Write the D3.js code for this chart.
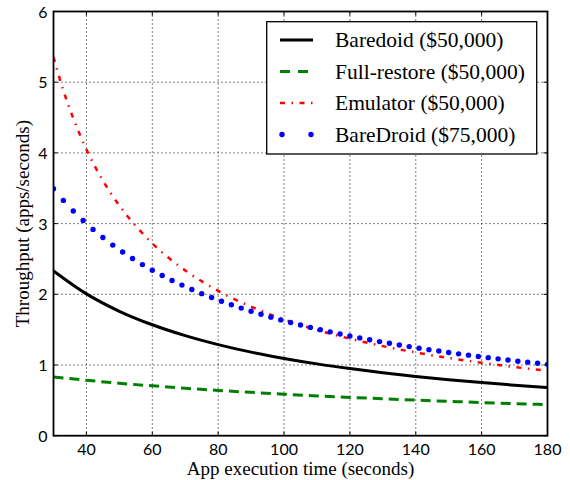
<!DOCTYPE html>
<html>
<head>
<meta charset="utf-8">
<script src="https://cdn.jsdelivr.net/npm/d3@7"></script>
<style>
  body { margin: 0; background: #fff; }
  svg { display: block; }
</style>
</head>
<body>
<div id="chart"></div>
<script>
// Values
var lineX = [30, 40, 50, 60, 70, 80, 90, 100, 110, 120, 130, 140, 150, 160, 170, 180];
var baredoid50k = [2.33, 2.006, 1.76, 1.569, 1.415, 1.288, 1.182, 1.093, 1.016, 0.949, 0.89, 0.838, 0.792, 0.751, 0.714, 0.68];
var fullRestore50k = [0.83, 0.784, 0.742, 0.705, 0.671, 0.641, 0.613, 0.587, 0.563, 0.542, 0.522, 0.503, 0.486, 0.469, 0.454, 0.44];
var emulatorX = [30, 33, 36, 40, 45, 50, 60, 70, 80, 90, 100, 110, 120, 130, 140, 150, 160, 170, 180];
var emulator50k = [5.355, 4.88, 4.49, 4.049, 3.609, 3.255, 2.721, 2.338, 2.049, 1.824, 1.644, 1.495, 1.372, 1.267, 1.177, 1.099, 1.031, 0.971, 0.917];

// BareDroid ($75,000) is drawn as point markers, one every 3 s
var dotX = [30, 33, 36, 39, 42, 45, 48, 51, 54, 57, 60, 63, 66, 69, 72, 75, 78, 81, 84, 87,
            90, 93, 96, 99, 102, 105, 108, 111, 114, 117, 120, 123, 126, 129, 132, 135, 138,
            141, 144, 147, 150, 153, 156, 159, 162, 165, 168, 171, 174, 177, 180];
var bareDroid75k = [3.492, 3.328, 3.179, 3.043, 2.918, 2.803, 2.696, 2.598, 2.506, 2.42, 2.341,
            2.266, 2.196, 2.13, 2.068, 2.009, 1.954, 1.902, 1.852, 1.805, 1.76, 1.718, 1.677,
            1.638, 1.602, 1.566, 1.532, 1.5, 1.469, 1.439, 1.411, 1.383, 1.357, 1.331, 1.307,
            1.283, 1.26, 1.238, 1.217, 1.197, 1.177, 1.158, 1.139, 1.121, 1.104, 1.087, 1.07,
            1.054, 1.039, 1.024, 1.009];

var xTicks = [40, 60, 80, 100, 120, 140, 160, 180];
var yTicks = [0, 1, 2, 3, 4, 5, 6];
var legendLabels = ["Baredoid ($50,000)", "Full-restore ($50,000)", "Emulator ($50,000)", "BareDroid ($75,000)"];

var serif = "'Liberation Serif', 'DejaVu Serif', serif";
var sans = "Lato, 'Open Sans', sans-serif";

var width = 570, height = 480;
var margin = {left: 53.5, right: 22.5, top: 11.5, bottom: 44.3};
var pw = width - margin.left - margin.right,
    ph = height - margin.top - margin.bottom;

var svg = d3.select("#chart").append("svg")
    .attr("width", width)
    .attr("height", height);

var x = d3.scaleLinear().domain([30, 180]).range([0, pw]);
var y = d3.scaleLinear().domain([0, 6]).range([ph, 0]);

var g = svg.append("g")
    .attr("transform", "translate(" + margin.left + "," + margin.top + ")");

g.append("clipPath").attr("id", "plotclip")
  .append("rect").attr("width", pw).attr("height", ph);

// Grid (dotted)
g.selectAll(".vgrid").data(xTicks.filter(function(d) { return d < 180; }))
  .enter().append("line")
    .attr("x1", function(d) { return x(d); }).attr("x2", function(d) { return x(d); })
    .attr("y1", 0).attr("y2", ph)
    .attr("stroke", "#000").attr("stroke-width", 1).attr("stroke-dasharray", "1,3");
g.selectAll(".hgrid").data(yTicks.filter(function(d) { return d > 0 && d < 6; }))
  .enter().append("line")
    .attr("x1", 0).attr("x2", pw)
    .attr("y1", function(d) { return y(d); }).attr("y2", function(d) { return y(d); })
    .attr("stroke", "#000").attr("stroke-width", 1).attr("stroke-dasharray", "1,3");

// Ticks on all four sides, pointing inward
var tl = 4;
xTicks.forEach(function(d) {
    g.append("line").attr("x1", x(d)).attr("x2", x(d)).attr("y1", ph).attr("y2", ph - tl)
        .attr("stroke", "#000").attr("stroke-width", 1);
    g.append("line").attr("x1", x(d)).attr("x2", x(d)).attr("y1", 0).attr("y2", tl)
        .attr("stroke", "#000").attr("stroke-width", 1);
    g.append("text")
        .attr("font-family", sans).attr("font-size", 16)
        .attr("x", x(d)).attr("y", ph + 19.5)
        .attr("text-anchor", "middle")
        .text(d);
});
yTicks.forEach(function(d) {
    g.append("line").attr("x1", 0).attr("x2", tl).attr("y1", y(d)).attr("y2", y(d))
        .attr("stroke", "#000").attr("stroke-width", 1);
    g.append("line").attr("x1", pw).attr("x2", pw - tl).attr("y1", y(d)).attr("y2", y(d))
        .attr("stroke", "#000").attr("stroke-width", 1);
    g.append("text")
        .attr("font-family", sans).attr("font-size", 16)
        .attr("x", -6).attr("y", y(d) + 6)
        .attr("text-anchor", "end")
        .text(d);
});

// Series
var plot = g.append("g").attr("clip-path", "url(#plotclip)");
function lineOf(xs, ys) {
    return d3.line()
        .x(function(d, i) { return x(xs[i]); })
        .y(function(d) { return y(d); })
        .curve(d3.curveMonotoneX)(ys);
}
plot.append("path").attr("d", lineOf(lineX, baredoid50k))
    .attr("fill", "none").attr("stroke", "#000").attr("stroke-width", 3);
plot.append("path").attr("d", lineOf(lineX, fullRestore50k))
    .attr("fill", "none").attr("stroke", "#008000").attr("stroke-width", 3)
    .attr("stroke-dasharray", "10,6");
plot.append("path").attr("d", lineOf(emulatorX, emulator50k))
    .attr("fill", "none").attr("stroke", "#ff0000").attr("stroke-width", 2.5)
    .attr("stroke-dasharray", "5,6.5,1.5,6.5");
plot.selectAll(".dot").data(bareDroid75k)
  .enter().append("circle")
    .attr("cx", function(d, i) { return x(dotX[i]); })
    .attr("cy", function(d) { return y(d); })
    .attr("r", 2.7)
    .attr("fill", "#0000ff");

// Frame
g.append("rect").attr("width", pw).attr("height", ph)
    .attr("fill", "none").attr("stroke", "#000").attr("stroke-width", 1.8);

// Axis labels
svg.append("text")
    .attr("font-family", serif).attr("font-size", 19)
    .attr("x", margin.left + pw / 2).attr("y", 475)
    .attr("text-anchor", "middle")
    .text("App execution time (seconds)");
svg.append("text")
    .attr("font-family", serif).attr("font-size", 19)
    .attr("transform", "translate(29," + (margin.top + ph / 2) + ") rotate(-90)")
    .attr("text-anchor", "middle")
    .text("Throughput (apps/seconds)");

// Legend
var lg = svg.append("g");
lg.append("rect")
    .attr("x", 266.7).attr("y", 21.7).attr("width", 270).attr("height", 132.3)
    .attr("fill", "#fff").attr("stroke", "#000").attr("stroke-width", 1.3);
var rowY = [40, 71.5, 103, 134.5];
var lx0 = 280, lx1 = 313;
lg.append("line").attr("x1", lx0).attr("x2", lx1).attr("y1", rowY[0]).attr("y2", rowY[0])
    .attr("stroke", "#000").attr("stroke-width", 3);
lg.append("line").attr("x1", lx0).attr("x2", lx1).attr("y1", rowY[1]).attr("y2", rowY[1])
    .attr("stroke", "#008000").attr("stroke-width", 3).attr("stroke-dasharray", "10,8");
lg.append("line").attr("x1", lx0).attr("x2", lx1).attr("y1", rowY[2]).attr("y2", rowY[2])
    .attr("stroke", "#ff0000").attr("stroke-width", 2.5).attr("stroke-dasharray", "5,6.5,1.5,6.5");
[lx0 + 2, lx1 - 2].forEach(function(cx) {
    lg.append("circle").attr("cx", cx).attr("cy", rowY[3]).attr("r", 2.7).attr("fill", "#0000ff");
});
legendLabels.forEach(function(t, i) {
    lg.append("text")
        .attr("font-family", serif).attr("font-size", 21.5)
        .attr("x", 335).attr("y", rowY[i] + 7)
        .text(t);
});
</script>
</body>
</html>
